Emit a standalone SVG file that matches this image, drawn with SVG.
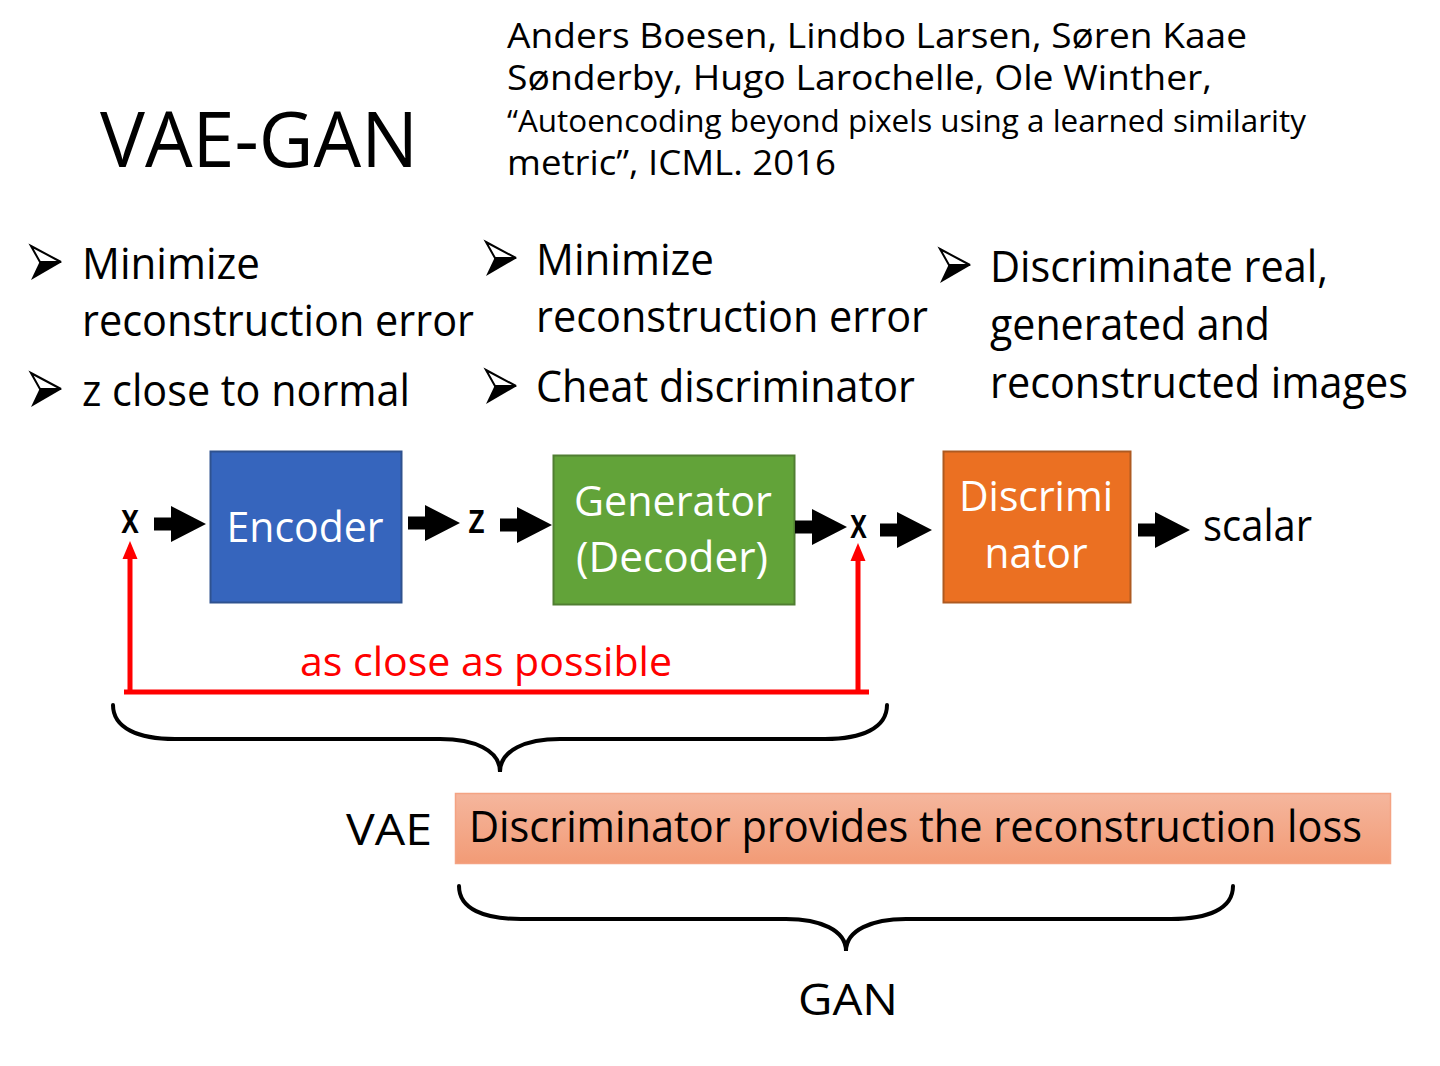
<svg xmlns="http://www.w3.org/2000/svg" xmlns:xlink="http://www.w3.org/1999/xlink" width="1440" height="1066" viewBox="0 0 1440 1066">
<defs>
<style>
text{font-family:"Open Sans","Noto Sans","Liberation Sans",sans-serif;fill:#000}
.b{font-size:43px}
.w{fill:#fff;font-size:42px}
.cit{font-size:34px}
.var{font-size:42px;font-weight:600}
.brace{fill:none;stroke:#000;stroke-width:4;stroke-linecap:round}
.red{stroke:#ff0000;stroke-width:5;fill:none}
</style>
<path id="blk" d="M0,-6.5 H17 V-18 L52,0 L17,18 V6.5 H0 Z" fill="#000"/>
<g id="bul">
<path d="M1,1 L31,17 L10,17 Z" fill="#fff" stroke="#000" stroke-width="2" stroke-linejoin="miter"/>
<path d="M10,16 L32,17 L1,35 Z" fill="#000"/>
</g>
<linearGradient id="sal" x1="0" y1="0" x2="0" y2="1">
<stop offset="0" stop-color="#F5B69D"/>
<stop offset="1" stop-color="#F29B76"/>
</linearGradient>
</defs>
<rect width="1440" height="1066" fill="#fff"/>

<g id="title">
<text x="100" y="167" font-size="77" textLength="318" lengthAdjust="spacingAndGlyphs">VAE-GAN</text>
</g>
<g id="citation">
<text class="cit" x="507" y="48" textLength="740" lengthAdjust="spacingAndGlyphs">Anders Boesen, Lindbo Larsen, Søren Kaae</text>
<text class="cit" x="507" y="90" textLength="705" lengthAdjust="spacingAndGlyphs">Sønderby, Hugo Larochelle, Ole Winther,</text>
<text x="507" y="132" font-size="31" textLength="799" lengthAdjust="spacingAndGlyphs">“Autoencoding beyond pixels using a learned similarity</text>
<text class="cit" x="507" y="175" textLength="329" lengthAdjust="spacingAndGlyphs">metric”, ICML. 2016</text>
</g>

<g id="bullets-vae">
<use xlink:href="#bul" href="#bul" x="30" y="245"/>
<text class="b" x="82" y="279" textLength="178" lengthAdjust="spacingAndGlyphs">Minimize</text>
<text class="b" x="82" y="336" textLength="392" lengthAdjust="spacingAndGlyphs">reconstruction error</text>
<use xlink:href="#bul" href="#bul" x="30" y="372"/>
<text class="b" x="82" y="406" textLength="328" lengthAdjust="spacingAndGlyphs">z close to normal</text>
</g>
<g id="bullets-gen">
<use xlink:href="#bul" href="#bul" x="485" y="241"/>
<text class="b" x="536" y="275" textLength="178" lengthAdjust="spacingAndGlyphs">Minimize</text>
<text class="b" x="536" y="332" textLength="392" lengthAdjust="spacingAndGlyphs">reconstruction error</text>
<use xlink:href="#bul" href="#bul" x="485" y="369"/>
<text class="b" x="536" y="402" textLength="379" lengthAdjust="spacingAndGlyphs">Cheat discriminator</text>
</g>
<g id="bullets-dis">
<use xlink:href="#bul" href="#bul" x="939" y="248"/>
<text class="b" x="990" y="282" textLength="338" lengthAdjust="spacingAndGlyphs">Discriminate real,</text>
<text class="b" x="990" y="340" textLength="280" lengthAdjust="spacingAndGlyphs">generated and</text>
<text class="b" x="990" y="398" textLength="418" lengthAdjust="spacingAndGlyphs">reconstructed images</text>
</g>

<g id="x-in"><text class="var" x="121" y="533" textLength="18" lengthAdjust="spacingAndGlyphs">x</text></g>
<g id="encoder">
<rect x="210.5" y="451.5" width="191" height="151" fill="#3665BD" stroke="#2F528F" stroke-width="2"/>
<text class="w" x="305" y="542" text-anchor="middle" textLength="157" lengthAdjust="spacingAndGlyphs">Encoder</text>
</g>
<g id="z"><text class="var" x="468" y="533" textLength="17" lengthAdjust="spacingAndGlyphs">z</text></g>
<g id="generator">
<rect x="553.5" y="455.5" width="241" height="149" fill="#62A339" stroke="#507E32" stroke-width="2"/>
<text class="w" x="673" y="516" text-anchor="middle" textLength="198" lengthAdjust="spacingAndGlyphs">Generator</text>
<text class="w" x="672" y="572" text-anchor="middle" textLength="192" lengthAdjust="spacingAndGlyphs">(Decoder)</text>
</g>
<g id="x-out"><text class="var" x="850" y="538" textLength="17" lengthAdjust="spacingAndGlyphs">x</text></g>
<g id="discriminator">
<rect x="943.5" y="451.5" width="187" height="151" fill="#EB7022" stroke="#AE5A21" stroke-width="2"/>
<text class="w" x="1036" y="511" text-anchor="middle" textLength="154" lengthAdjust="spacingAndGlyphs">Discrimi</text>
<text class="w" x="1036" y="568" text-anchor="middle" textLength="103" lengthAdjust="spacingAndGlyphs">nator</text>
</g>
<g id="scalar"><text class="b" x="1203" y="541" textLength="109" lengthAdjust="spacingAndGlyphs">scalar</text></g>

<g id="connectors">
<use xlink:href="#blk" href="#blk" x="154" y="524"/>
<use xlink:href="#blk" href="#blk" x="408" y="523"/>
<use xlink:href="#blk" href="#blk" x="500" y="525"/>
<use xlink:href="#blk" href="#blk" x="795" y="527"/>
<use xlink:href="#blk" href="#blk" x="880" y="530"/>
<use xlink:href="#blk" href="#blk" x="1138" y="530"/>
<path class="red" d="M124,692 H869"/>
<path class="red" d="M130,692 V556"/>
<path d="M130,541 L137.5,559 L122.5,559 Z" fill="#ff0000"/>
<path class="red" d="M858,692 V558"/>
<path d="M858,543 L865.5,561 L850.5,561 Z" fill="#ff0000"/>
</g>
<g id="close-label">
<text x="300" y="676" font-size="41" style="fill:#ff0000" textLength="372" lengthAdjust="spacingAndGlyphs">as close as possible</text>
</g>

<g id="vae-brace">
<path class="brace" d="M113,705 C113,728 138,739 175,739 L440,739 C474,739 500,750 500,772 C500,750 526,739 560,739 L825,739 C862,739 887,728 887,705"/>
</g>
<g id="vae-label"><text class="b" x="346" y="845" textLength="86" lengthAdjust="spacingAndGlyphs">VAE</text></g>
<g id="loss-box">
<rect x="455.5" y="793.5" width="935" height="70" fill="url(#sal)" stroke="#F4A383" stroke-width="1.5"/>
<text class="b" x="469" y="842" textLength="893" lengthAdjust="spacingAndGlyphs">Discriminator provides the reconstruction loss</text>
</g>
<g id="gan-brace">
<path class="brace" d="M459,886 C459,909 484,919 521,919 L786,919 C820,919 846,930 846,951 C846,930 872,919 906,919 L1171,919 C1208,919 1233,909 1233,886"/>
</g>
<g id="gan-label"><text class="b" x="798" y="1015" textLength="100" lengthAdjust="spacingAndGlyphs">GAN</text></g>
</svg>
